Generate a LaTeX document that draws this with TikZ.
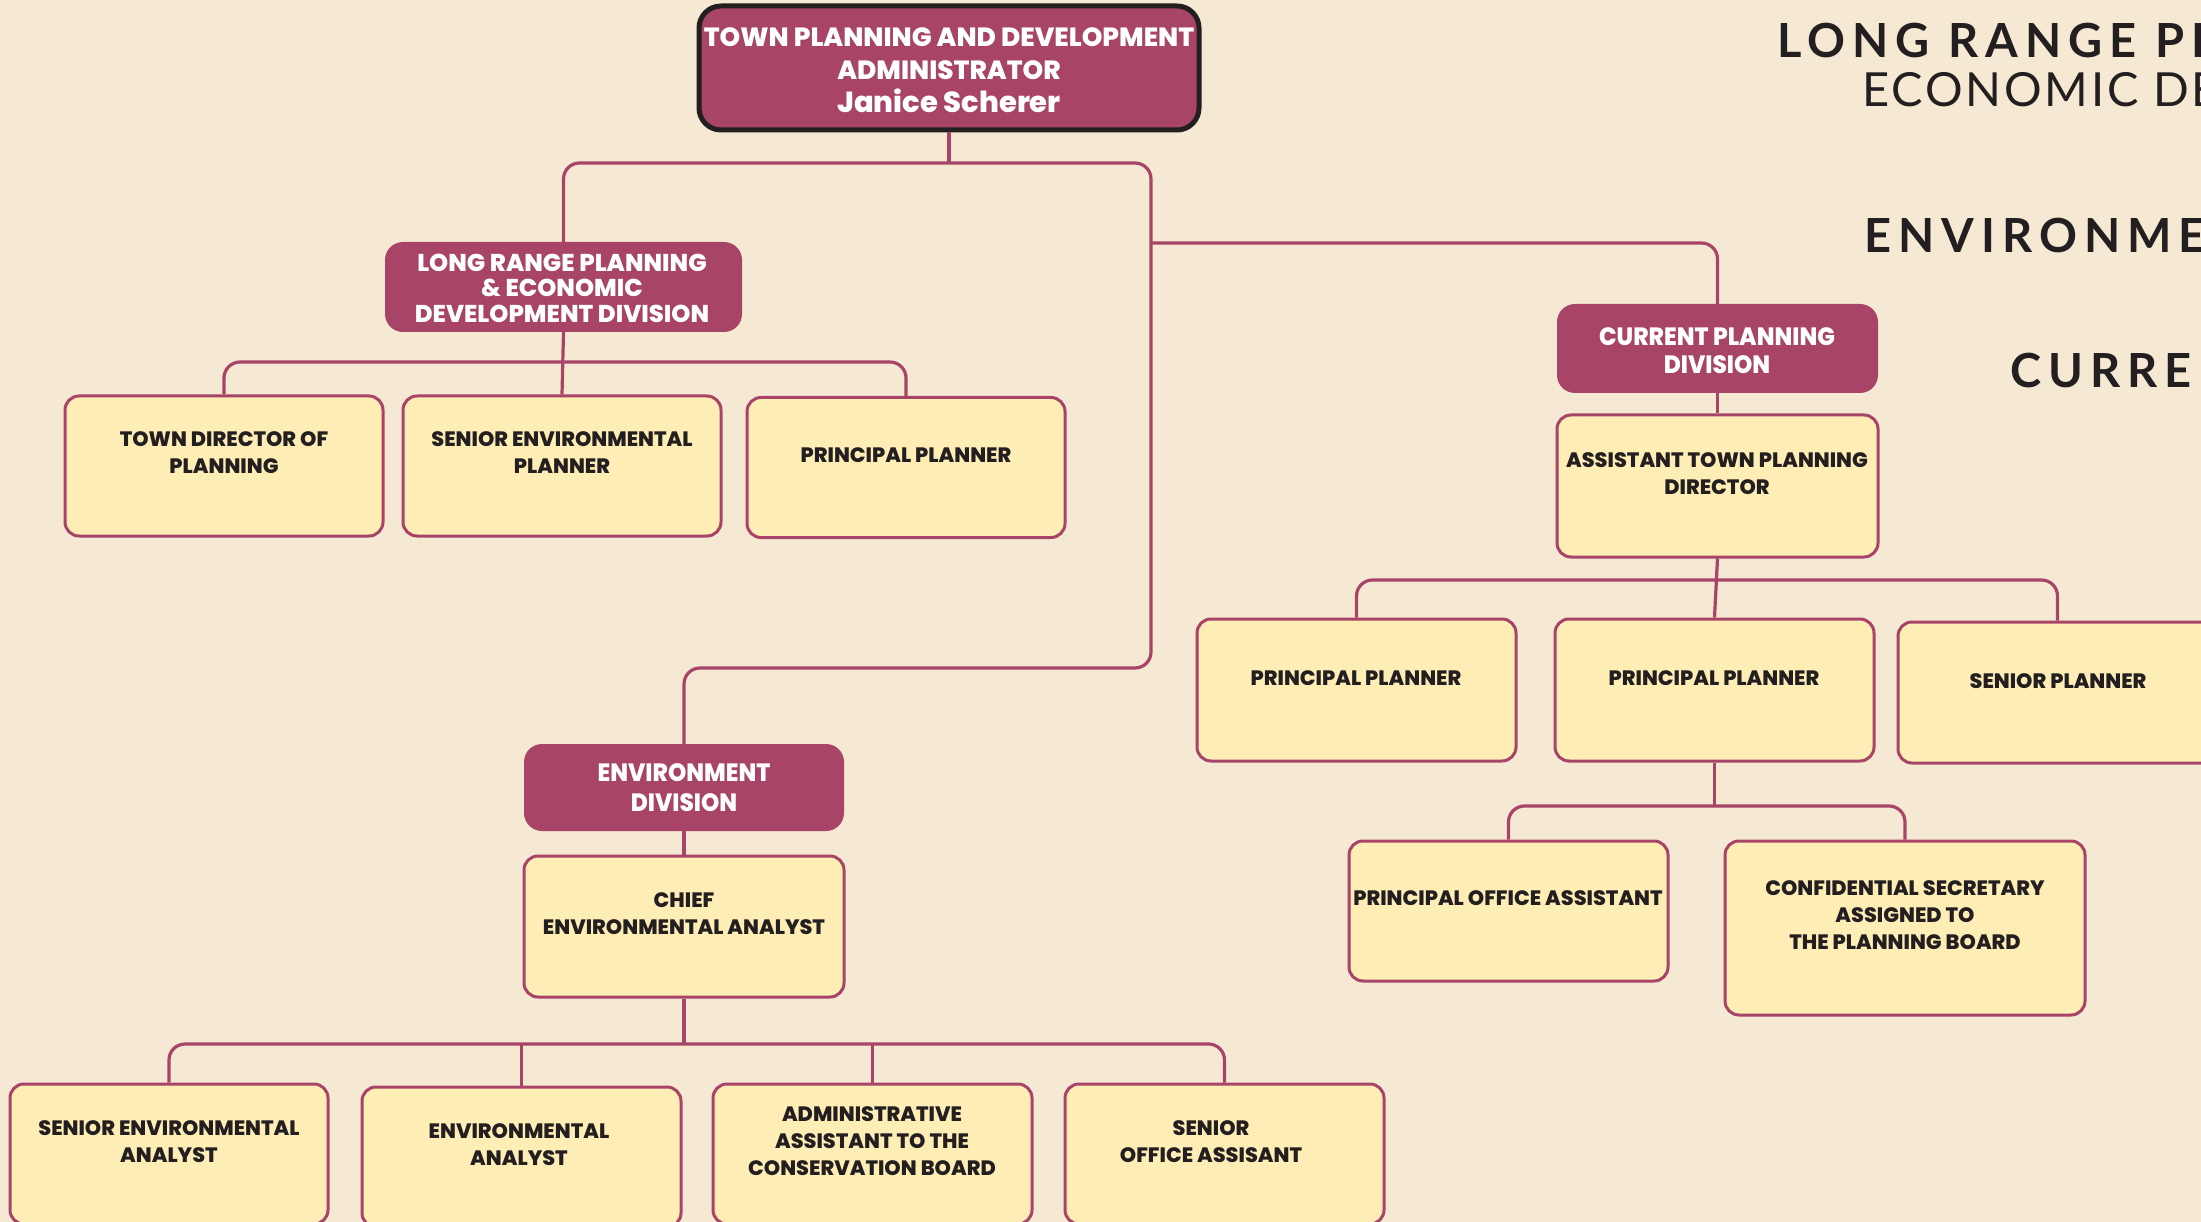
\documentclass[tikz,border=0pt]{standalone}
\usepackage{fontspec}
\setmainfont{Poppins}
\newfontfamily\boxfont{Poppins}[FakeStretch=1.0, BoldFont={* ExtraBold}]
\newfontfamily\divfont{Poppins}[FakeStretch=0.93, BoldFont={* ExtraBold}]
\newfontfamily\headfont{Lato}[LetterSpace=15]
\newfontfamily\headregfont{Lato}[LetterSpace=6]
\definecolor{bgc}{HTML}{F5E9D3}
\definecolor{maroon}{HTML}{A84467}
\definecolor{yfill}{HTML}{FEEDB5}
\definecolor{ink}{HTML}{231F20}
\begin{document}
\begin{tikzpicture}[x=1pt,y=-1pt,
  conn/.style={draw=maroon, line width=3.2, rounded corners=16},
  ybox/.style={draw=maroon, fill=yfill, line width=3, rounded corners=14, inner sep=0, rectangle},
  dbox/.style={fill=maroon, rounded corners=18, inner sep=0, rectangle},
  rootbox/.style={fill=maroon, draw=ink, line width=5, rounded corners=22, inner sep=0, rectangle},
  ytext/.style={font=\boxfont\bfseries\fontsize{20.8}{27}\selectfont, text=ink, align=center, inner sep=0},
  dtext/.style={font=\divfont\bfseries\fontsize{25}{26}\selectfont, text=white, align=center, inner sep=0},
  headb/.style={font=\headfont\bfseries\fontsize{47}{50}\selectfont, text=ink, anchor=base west, inner sep=0},
  headr/.style={font=\headregfont\fontsize{47}{50}\selectfont, text=ink, anchor=base west, inner sep=0}
]
\useasboundingbox (0,0) rectangle (2201,1222);
\clip (0,0) rectangle (2201,1222);
\fill[bgc] (0,0) rectangle (2201,1222);

% headings (cut by the right edge)
\node[headb] (h1) at (1777,58) {LONG RANGE PLANNING \&};
\node[headr] (h2) at (1862,107) {ECONOMIC DEVELOPMENT};
\node[headb] (h3) at (1864,253) {ENVIRONMENT};
\node[headb] (h4) at (2010,388) {CURRENT PLANNING};

% boxes
\node[rootbox, minimum width=500, minimum height=124] (root) at (949,68) {};
\node[dbox, minimum width=357, minimum height=90] (lrp) at (563.5,287) {};
\node[dbox, minimum width=321, minimum height=89] (cur) at (1717.5,348.5) {};
\node[dbox, minimum width=320, minimum height=87] (env) at (684,787.5) {};

\node[ybox, minimum width=318, minimum height=140] (t1) at (224,466) {};
\node[ybox, minimum width=318, minimum height=140] (t2) at (562,466) {};
\node[ybox, minimum width=318, minimum height=140] (t3) at (906,467.5) {};
\node[ybox, minimum width=321, minimum height=142] (ast) at (1717.5,486) {};
\node[ybox, minimum width=319, minimum height=142] (p1) at (1356.5,690) {};
\node[ybox, minimum width=319, minimum height=142] (p2) at (1714.5,690) {};
\node[ybox, minimum width=319, minimum height=141] (sp) at (2057.5,692.5) {};
\node[ybox, minimum width=319, minimum height=140] (poa) at (1508.5,911) {};
\node[ybox, minimum width=360, minimum height=174] (conf) at (1905,928) {};
\node[ybox, minimum width=320, minimum height=141] (chief) at (684,926.5) {};
\node[ybox, minimum width=318, minimum height=140] (e1) at (169,1154) {};
\node[ybox, minimum width=319, minimum height=140] (e2) at (521.5,1157) {};
\node[ybox, minimum width=319, minimum height=140] (e3) at (872.5,1154) {};
\node[ybox, minimum width=319, minimum height=140] (e4) at (1224.5,1154) {};

% texts
\node[dtext, font=\boxfont\bfseries\fontsize{26.3}{33}\selectfont] (troot) at (949,70)
  {TOWN PLANNING AND DEVELOPMENT\\ADMINISTRATOR\\{\fontsize{29}{31}\selectfont Janice Scherer}};
\node[dtext, font=\boxfont\bfseries\fontsize{24.3}{25.5}\selectfont] (tlrp) at (562,288) {LONG RANGE PLANNING\\\& ECONOMIC\\DEVELOPMENT DIVISION};
\node[dtext, font=\divfont\bfseries\fontsize{25}{28}\selectfont] (tcur) at (1717,351) {CURRENT PLANNING\\DIVISION};
\node[dtext, font=\divfont\bfseries\fontsize{25}{30}\selectfont] (tenv) at (684,788) {ENVIRONMENT\\DIVISION};

\node[ytext] (tt1) at (224,452.5) {TOWN DIRECTOR OF\\PLANNING};
\node[ytext] (tt2) at (562,452.5) {SENIOR ENVIRONMENTAL\\PLANNER};
\node[ytext] (tt3) at (906,455) {PRINCIPAL PLANNER};
\node[ytext] (tast) at (1717,473.5) {ASSISTANT TOWN PLANNING\\DIRECTOR};
\node[ytext] (tp1) at (1356,678) {PRINCIPAL PLANNER};
\node[ytext] (tp2) at (1714,678) {PRINCIPAL PLANNER};
\node[ytext] (tsp) at (2058,681) {SENIOR PLANNER};
\node[ytext] (tpoa) at (1508,898) {PRINCIPAL OFFICE ASSISTANT};
\node[ytext] (tconf) at (1905,915.5) {CONFIDENTIAL SECRETARY\\ASSIGNED TO\\THE PLANNING BOARD};
\node[ytext] (tchief) at (684,914) {CHIEF\\ENVIRONMENTAL ANALYST};
\node[ytext] (te1) at (169,1142) {SENIOR ENVIRONMENTAL\\ANALYST};
\node[ytext] (te2) at (519,1144.5) {ENVIRONMENTAL\\ANALYST};
\node[ytext] (te3) at (872,1141.5) {ADMINISTRATIVE\\ASSISTANT TO THE\\CONSERVATION BOARD};
\node[ytext] (te4) at (1211,1142) {SENIOR\\OFFICE ASSISANT};

% bus coordinates
\coordinate (busA) at (0,163);
\coordinate (jr) at (1151,243);
\coordinate (busB) at (0,362);
\coordinate (busC) at (0,580);
\coordinate (busD) at (0,806);
\coordinate (busE) at (0,1044);

% connectors
\draw[conn] (root.south) -- (busA -| root.south);
\draw[conn] (lrp.north) |- (1151,163) -- (1151,668) -| (env.north);
\draw[conn] (jr) -| (cur.north);
\draw[conn] (lrp.south) -- (t2.north);
\draw[conn] (t1.north) |- (busB -| t3.north) -- (t3.north);
\draw[conn] (cur.south) -- (ast.north);
\draw[conn] (ast.south) -- (p2.north);
\draw[conn] (p1.north) |- (busC -| sp.north) -- (sp.north);
\draw[conn] (p2.south) -- (busD -| p2.south);
\draw[conn] (poa.north) |- (busD -| conf.north) -- (conf.north);
\draw[conn] (env.south) -- (chief.north);
\draw[conn] (chief.south) -- (busE -| chief.south);
\draw[conn] (e1.north) |- (busE -| e4.north) -- (e4.north);
\draw[conn] (e2.north) -- (busE -| e2.north);
\draw[conn] (e3.north) -- (busE -| e3.north);
\end{tikzpicture}
\end{document}
